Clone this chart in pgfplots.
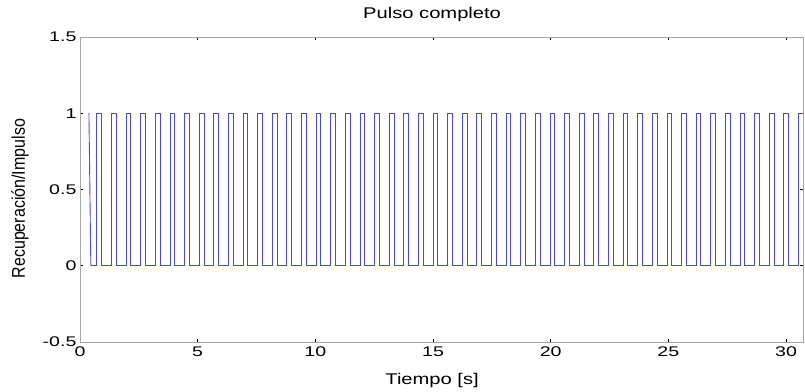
\documentclass[border=0pt]{standalone}
\usepackage{pgfplots}
\pgfplotsset{compat=1.18}
\usepackage{graphicx}
\usepackage{fontspec}
\setmainfont{Liberation Sans}
\definecolor{mblue}{RGB}{70,70,255}
\newcommand\hs[1]{\scalebox{1.4}[1]{#1}}
\begin{document}
\begin{tikzpicture}
\begin{axis}[
  scale only axis,
  width=723pt, height=305pt,
  xmin=0, xmax=30.72, ymin=-0.5, ymax=1.5,
  xtick={0,5,...,30}, ytick={-0.5,0,0.5,1,1.5},
  xticklabels={\hs{0},\hs{5},\hs{10},\hs{15},\hs{20},\hs{25},\hs{30}},
  yticklabels={\hs{-0.5},\hs{0},\hs{0.5},\hs{1},\hs{1.5}},
  tick align=inside,
  major tick length=3pt,
  axis line style={gray!70, line width=0.8pt},
  tick style={black, line width=0.6pt},
  tick label style={font=\fontsize{14}{14}\selectfont},
  xticklabel style={yshift=-1pt},
  title={\scalebox{1.3}[1]{Pulso completo}},
  title style={at={(axis description cs:0.487,1)}, anchor=base, yshift=12pt, font=\fontsize{15.5}{15.5}\selectfont},
  xlabel={\scalebox{1.3}[1]{Tiempo [s]}},
  xlabel style={at={(axis description cs:0.487,0)}, anchor=base, yshift=-43pt, font=\fontsize{15.5}{15.5}\selectfont},
  ylabel={\scalebox{1}[1.15]{Recuperación/Impulso}},
  ylabel style={at={(axis description cs:-0.083,0.47)}, anchor=center, font=\fontsize{16}{16}\selectfont},
]
\addplot[mblue, line width=0.9pt] coordinates {(0.38,1) (0.46,0)};
\addplot[mblue, line width=0.9pt, const plot] coordinates {
(0.46,0)
(0.720,1) (0.920,0) (1.341,1) (1.541,0) (1.962,1) (2.162,0) (2.583,1) (2.783,0)
(3.204,1) (3.404,0) (3.825,1) (4.025,0) (4.446,1) (4.646,0) (5.067,1) (5.267,0)
(5.688,1) (5.888,0) (6.309,1) (6.509,0) (6.930,1) (7.130,0) (7.551,1) (7.751,0)
(8.172,1) (8.372,0) (8.793,1) (8.993,0) (9.414,1) (9.614,0) (10.035,1) (10.235,0)
(10.656,1) (10.856,0) (11.277,1) (11.477,0) (11.898,1) (12.098,0) (12.519,1) (12.719,0)
(13.140,1) (13.340,0) (13.761,1) (13.961,0) (14.382,1) (14.582,0) (15.003,1) (15.203,0)
(15.624,1) (15.824,0) (16.245,1) (16.445,0) (16.866,1) (17.066,0) (17.487,1) (17.687,0)
(18.108,1) (18.308,0) (18.729,1) (18.929,0) (19.350,1) (19.550,0) (19.971,1) (20.171,0)
(20.592,1) (20.792,0) (21.213,1) (21.413,0) (21.834,1) (22.034,0) (22.455,1) (22.655,0)
(23.076,1) (23.276,0) (23.697,1) (23.897,0) (24.318,1) (24.518,0) (24.939,1) (25.139,0)
(25.560,1) (25.760,0) (26.181,1) (26.381,0) (26.802,1) (27.002,0) (27.423,1) (27.623,0)
(28.044,1) (28.244,0) (28.665,1) (28.865,0) (29.286,1) (29.486,0) (29.907,1) (30.107,0)
(30.528,1) (30.72,1)
};
\end{axis}
\path ([xshift=-80pt,yshift=-50pt]current axis.south west) rectangle ([xshift=2pt,yshift=37pt]current axis.north east);
\end{tikzpicture}
\end{document}
